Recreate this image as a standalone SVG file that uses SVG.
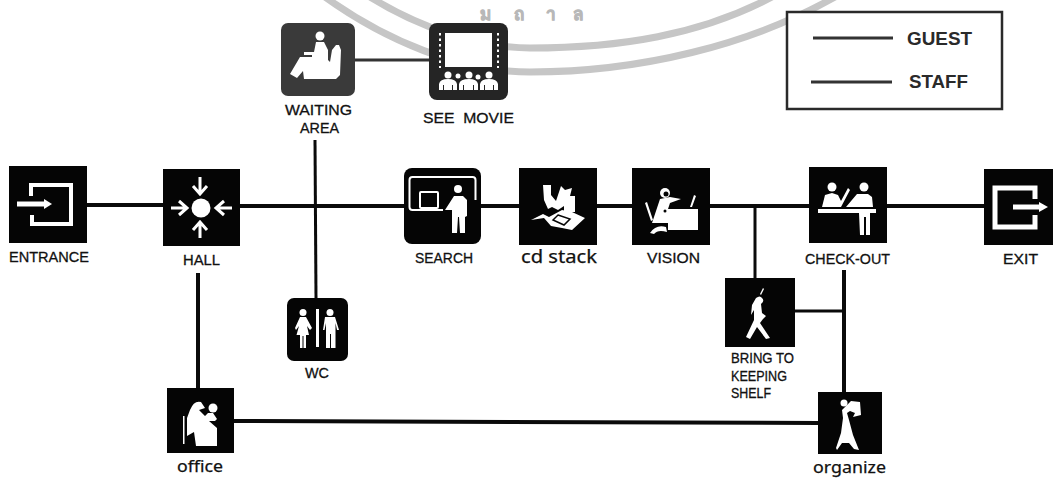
<svg xmlns="http://www.w3.org/2000/svg" width="1053" height="478" viewBox="0 0 1053 478">
<style>
.bk{fill:#050505}
.ic{fill:#fff;stroke:none}
.ln{fill:none;stroke:#fff;stroke-width:3}
.c{fill:none;stroke:#0a0a0a;stroke-width:4;stroke-linecap:butt}
.t{font-family:"Liberation Sans",Arial,sans-serif;font-size:15.5px;fill:#111;stroke:#111;stroke-width:.3}
.s{font-size:14.5px}
.l{font-family:"Noto Sans","DejaVu Sans",sans-serif;fill:#111;stroke:#111;stroke-width:.25}
.b{font-family:"Liberation Sans",Arial,sans-serif;font-weight:bold;font-size:19px;fill:#2a2a2a}
.w{fill:none;stroke:#c6c6c6;stroke-width:7}
.wt{font-family:"Noto Sans","DejaVu Sans",sans-serif;font-size:17px;font-weight:bold;fill:#b8b8b8;stroke:#b8b8b8;stroke-width:.8}
</style>
<rect width="1053" height="478" fill="#fff"/>
<g id="watermark">
<path class="w" d="M325 -3C385 40 460 72 530 72C640 72 750 45 835 -3"/>
<path class="w" d="M370 -3C420 28 480 48 530 48C620 48 700 35 772 -3"/>
<text class="wt" x="480" y="20">ม</text>
<text class="wt" x="514" y="20">ถ</text>
<text class="wt" x="546" y="20">า</text>
<text class="wt" x="573" y="20">ล</text>
</g>
<g id="connectors">
<path class="c" d="M87 205H163"/>
<path class="c" d="M240 206H404"/>
<path class="c" d="M481 206H519"/>
<path class="c" d="M597 206H632"/>
<path class="c" d="M710 206H809"/>
<path class="c" d="M887 206H984"/>
<path class="c" style="stroke:#333;stroke-width:3" d="M355 60H429"/>
<path class="c" style="stroke-width:3" d="M315 140L316 298"/>
<path class="c" d="M198 273V388"/>
<path class="c" style="stroke-width:3" d="M755 206V278"/>
<path class="c" d="M844 270V392"/>
<path class="c" style="stroke-width:3" d="M795 311H844"/>
<path class="c" d="M234 421L818 423"/>
</g>
<g id="entrance">
<rect class="bk" x="9" y="166" width="78" height="77"/>
<path fill="none" stroke="#fff" stroke-width="4" d="M31 196V185H71V224H32V215"/>
<path fill="none" stroke="#fff" stroke-width="5" d="M17 204H46"/>
<path class="ic" d="M44 199L52 204L44 209Z"/>
<text class="t" x="9" y="262" textLength="80" lengthAdjust="spacingAndGlyphs">ENTRANCE</text>
</g>
<g id="hall">
<rect class="bk" x="163" y="169" width="77" height="77"/>
<circle class="ic" cx="201" cy="208" r="9.5"/>
<path class="ln" d="M200 177V193M193 186L200 194L207 186M200 238V222M193 230L200 222L207 230M171 208H187M179 201L187 208L179 215M232 208H216M224 201L216 208L224 215"/>
<text class="t" x="183" y="265" textLength="37" lengthAdjust="spacingAndGlyphs">HALL</text>
</g>
<g id="waiting-area">
<rect x="281" y="23" width="74" height="73" rx="7" fill="#3a3a3a"/>
<circle class="ic" cx="320" cy="36" r="4.5"/>
<path class="ic" d="M316 42H324L328 50L328 60L330 62L332 50L336 45H339L341 50L340 75L336 79H304L303 71L297 78L290 74L300 57H312V55H304V52H314Z"/>
<text class="t" x="285" y="115" textLength="67" lengthAdjust="spacingAndGlyphs">WAITING</text>
<text class="t" x="300" y="133" textLength="39" lengthAdjust="spacingAndGlyphs">AREA</text>
</g>
<g id="see-movie">
<rect x="429" y="23" width="79" height="77" rx="8" fill="#252525"/>
<rect class="ic" x="445" y="33" width="47" height="34"/>
<path fill="none" stroke="#fff" stroke-width="2" stroke-dasharray="2.5 3" d="M440 33V68M498 33V68"/>
<g class="ic">
<circle cx="448" cy="75" r="3.5"/><circle cx="458" cy="76" r="2.5"/><circle cx="469" cy="75" r="3.5"/><circle cx="478" cy="77" r="2.5"/><circle cx="489" cy="75" r="3.5"/>
<path d="M439 90V84Q440 79 448 79Q456 79 457 84V90H453V85H452V90H444V85H443V90Z"/>
<path d="M459 90V84Q460 79 469 79Q477 79 478 84V90H474V85H473V90H464V85H463V90Z"/>
<path d="M480 90V84Q481 79 489 79Q497 79 498 84V90H494V85H493V90H485V85H484V90Z"/>
</g>
<text class="t" x="423" y="123" textLength="91" lengthAdjust="spacingAndGlyphs" xml:space="preserve">SEE  MOVIE</text>
</g>
<g id="search">
<rect class="bk" x="404" y="168" width="77" height="76" rx="8"/>
<rect x="409.500" y="177" width="66" height="33" rx="3" fill="none" stroke="#fff" stroke-width="2"/>
<rect x="420" y="192" width="18" height="16" rx="1" fill="none" stroke="#fff" stroke-width="2"/>
<rect x="443" y="200" width="34" height="12" fill="#050505"/>
<circle class="ic" cx="458" cy="189" r="4"/>
<path class="ic" d="M445 210L454 196H463L467 200V216L465 217V233H460L459 217H458L457 233H452V210H446Z"/>
<text class="t" x="415" y="263" textLength="58" lengthAdjust="spacingAndGlyphs">SEARCH</text>
</g>
<g id="cd-stack">
<rect class="bk" x="519" y="168" width="78" height="77"/>
<path class="ic" d="M543 185H551V195L556 201L561 186L565 190L572 188L570 196H575V212H564V206L558 210L552 207L548 209L544 200Z"/>
<path class="ic" d="M531 220L543 214L549 217L562 210L572 212L585 218L572 230L562 228L551 226L544 218Z"/>
<path fill="none" stroke="#050505" stroke-width="1.500" d="M558 215L570 219L564 225L553 220Z"/>
<text class="l" x="521" y="263" font-size="18" textLength="76" lengthAdjust="spacingAndGlyphs">cd stack</text>
</g>
<g id="vision">
<rect class="bk" x="632" y="168" width="78" height="77"/>
<circle class="ic" cx="665" cy="193" r="5"/>
<circle cx="666" cy="194" r="2.500" fill="#050505"/>
<path class="ic" d="M660 199L670 197L681 199L670 203L668 209H698V230H668V223H652ZM690 207L694 195L696 196L692 207ZM645 203L647 202L653 220L651 221ZM650 233Q656 224 666 227L667 232Q658 229 654 234Z"/>
<circle cx="665" cy="211" r="1.500" fill="#050505"/>
<text class="t" x="647" y="263" textLength="53" lengthAdjust="spacingAndGlyphs">VISION</text>
</g>
<g id="check-out">
<rect class="bk" x="809" y="167" width="78" height="76"/>
<circle class="ic" cx="832" cy="187" r="4.500"/>
<circle class="ic" cx="864" cy="187" r="4.500"/>
<rect class="ic" x="818" y="209" width="58" height="4"/>
<path class="ic" d="M822 207L825 195L832 193L838 195L841 201L848 188L850 190L841 207ZM846 207L857 194H868L872 197L873 207ZM859 213H870V235H866V217H864V235H860Z"/>
<text class="t" x="805" y="264" textLength="85" lengthAdjust="spacingAndGlyphs">CHECK-OUT</text>
</g>
<g id="exit">
<rect class="bk" x="984" y="169" width="69" height="76"/>
<path fill="none" stroke="#fff" stroke-width="5" d="M1035 199V188H995V227H1035V215"/>
<path fill="none" stroke="#fff" stroke-width="5" d="M1013 207H1041"/>
<path class="ic" d="M1039 202L1048 207L1039 212Z"/>
<text class="t" x="1003" y="264" textLength="35" lengthAdjust="spacingAndGlyphs">EXIT</text>
</g>
<g id="wc">
<rect class="bk" x="287" y="298" width="61" height="63" rx="7"/>
<rect class="ic" x="316" y="309" width="3" height="38"/>
<circle class="ic" cx="303" cy="312.500" r="3.500"/>
<circle class="ic" cx="330" cy="312.500" r="3.500"/>
<path class="ic" d="M300 317H306L312 328L310 330L307 326L309 335H306V348H303.500V336H302.500V348H300V335H296.500L299 326L296 330L295 328Z"/>
<path class="ic" d="M325 317H335L339 330H337L335.500 323V348H331V334H330V348H326V323L324.500 330H323Z"/>
<text class="t" x="305" y="378" textLength="24" lengthAdjust="spacingAndGlyphs">WC</text>
</g>
<g id="bring-to-keeping-shelf">
<rect class="bk" x="725" y="278" width="70" height="69"/>
<path class="ic" d="M760 294L763 288L764 289L761 295Z"/>
<path class="ic" d="M756 298Q760 295 762 298Q765 301 761 304L762 313L766 316L763 319L760 323L770 338L766 339L757 327L750 339L746 337L754 320L754 310L751 315L752 305Z"/>
<text class="t s" x="731" y="363" textLength="63" lengthAdjust="spacingAndGlyphs">BRING TO</text>
<text class="t s" x="731" y="381" textLength="56" lengthAdjust="spacingAndGlyphs">KEEPING</text>
<text class="t s" x="731" y="398" textLength="40" lengthAdjust="spacingAndGlyphs">SHELF</text>
</g>
<g id="office">
<rect class="bk" x="167" y="388" width="67" height="65"/>
<circle class="ic" cx="213" cy="408" r="4.500"/>
<rect class="ic" x="183" y="416" width="1.500" height="28"/>
<path class="ic" d="M190 410Q194 400 201 402L205 408L199 410L205 416L208 413H213L217 419L215 421H209L217 428V446H196L194 432L187 436V418Z"/>
<text class="l" x="177" y="472" font-size="16" textLength="46" lengthAdjust="spacingAndGlyphs">office</text>
</g>
<g id="organize">
<rect class="bk" x="818" y="392" width="64" height="62"/>
<circle class="ic" cx="844" cy="403" r="3.500"/>
<path class="ic" d="M851 401L860 402L861 415L853 417L855 413L850 411L847 413L849 420L853 435L859 450L854 449L849 443H842L837 450L836 448L841 433L843 418L842 410Z"/>
<text class="l" x="813" y="473" font-size="17" textLength="73" lengthAdjust="spacingAndGlyphs">organize</text>
</g>
<g id="legend">
<rect x="787" y="12" width="215" height="97" fill="#fff" stroke="#2a2a2a" stroke-width="2.500"/>
<path fill="none" stroke="#333" stroke-width="3" d="M813 38H893M811 82H892"/>
<text class="b" x="907" y="45" textLength="65" lengthAdjust="spacingAndGlyphs">GUEST</text>
<text class="b" x="909" y="88" textLength="59" lengthAdjust="spacingAndGlyphs">STAFF</text>
</g>
</svg>
